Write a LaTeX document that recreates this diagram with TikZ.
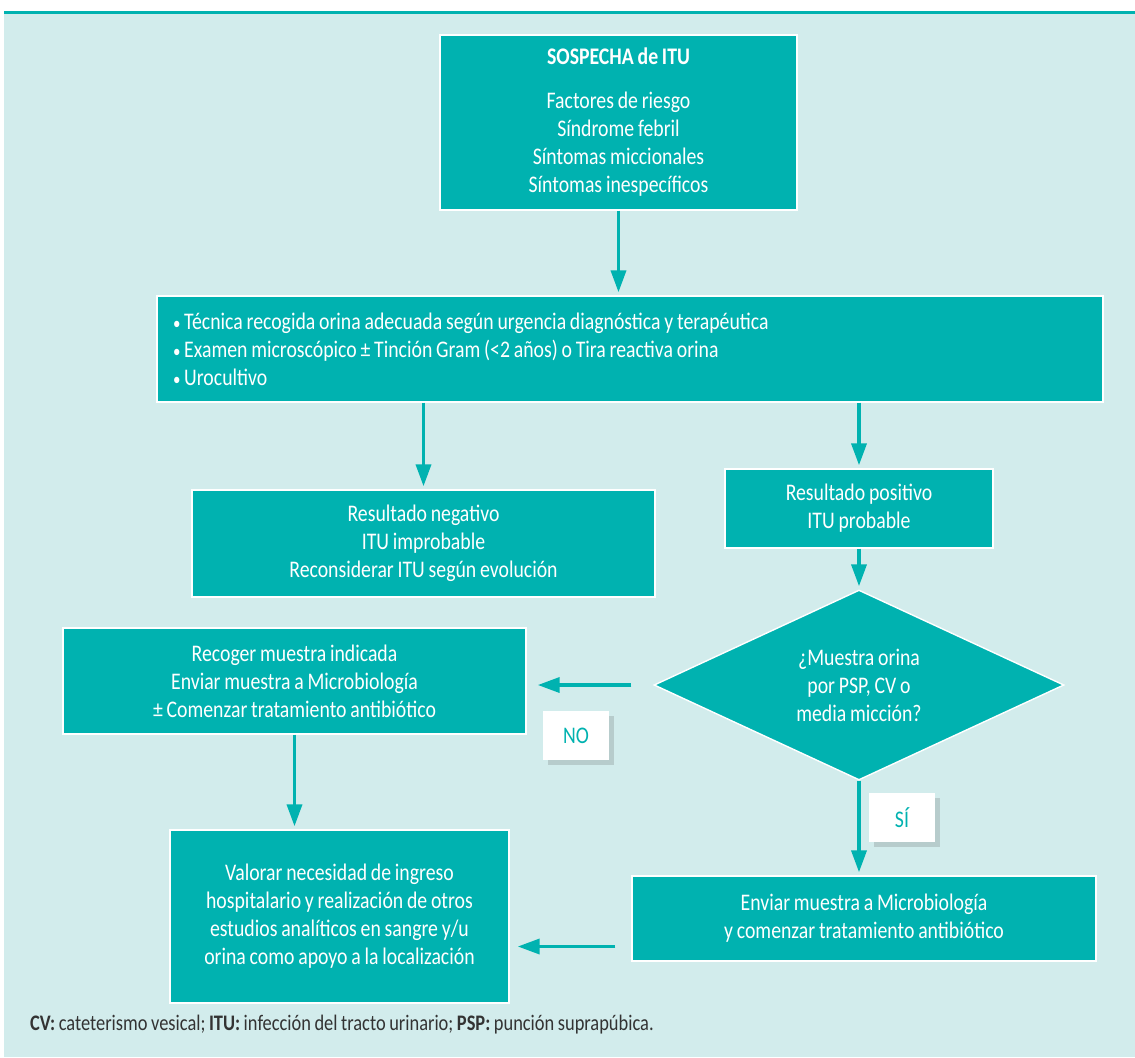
\documentclass[tikz,border=0pt]{standalone}
\usepackage{fontspec}
\setmainfont[FakeStretch=0.83,WordSpace=0.85]{Carlito}
\usetikzlibrary{arrows.meta,positioning,shapes.geometric,shadows}
\definecolor{tealbox}{HTML}{00B2B0}
\definecolor{tealbg}{HTML}{D2ECEC}
\definecolor{notegrey}{HTML}{333333}

\begin{document}
\begin{tikzpicture}[x=0.5pt,y=-0.5pt,font=\fontsize{11.9}{14}\selectfont,
  box/.style={draw=white,line width=0.7pt,fill=tealbox,text=white,
              align=center,inner sep=0pt},
  decision/.style={diamond,aspect=2.2,draw=white,line width=0.7pt,fill=tealbox,
              text=white,align=center,inner sep=0pt,
              minimum width=205pt,minimum height=95pt},
  tag/.style={fill=white,text=tealbox,minimum width=33pt,minimum height=24.5pt,
              inner sep=0pt,drop shadow={shadow xshift=2.5pt,shadow yshift=-2.5pt,
              opacity=.2,fill=black!70}},
  flow/.style={draw=tealbox,line width=1.8pt,
              -{Triangle[length=11pt,width=7.5pt]},shorten >=1.5pt}]
% page, rule on top
\fill[white] (0,0) rectangle (1135,1057);
\fill[tealbg] (4,14) rectangle (1135,1057);
\fill[tealbox] (4,11) rectangle (1135,14);
\useasboundingbox (0,0) rectangle (1135,1057);

\node[box,minimum width=178.5pt,minimum height=87.5pt] (sosp) at (618.5,122.5)
  {{\bfseries SOSPECHA de ITU}\\[8pt]Factores de riesgo\\Síndrome febril\\
   Síntomas miccionales\\Síntomas inespecíficos};
\node[box,align=left,text width=457pt,inner xsep=8pt,minimum height=53pt] (tecn)
  at (630,349)
  {\spaceskip=0pt \xspaceskip=0pt
   {\small\textbullet}\ Técnica recogida orina adecuada según urgencia diagnóstica y terapéutica\\
   {\small\textbullet}\ Examen microscópico ± Tinción Gram (<2 años) o Tira reactiva orina\\
   {\small\textbullet}\ Urocultivo};
\node[box,minimum width=231.5pt,minimum height=53.5pt] (neg) at (423.5,543.5)
  {Resultado negativo\\ITU improbable\\Reconsiderar ITU según evolución};
\node[box,minimum width=134pt,minimum height=39.5pt] (pos) at (859,508.5)
  {Resultado positivo\\ITU probable};
\node[decision] (muestra) at (859,685)
  {¿Muestra orina\\por PSP, CV o\\media micción?};
\node[box,minimum width=231.5pt,minimum height=53pt] (recog) at (294.5,681)
  {Recoger muestra indicada\\Enviar muestra a Microbiología\\
   ± Comenzar tratamiento antibiótico};
\node[box,minimum width=232pt,minimum height=42.5pt] (envia) at (864,918.5)
  {Enviar muestra a Microbiología\\y comenzar tratamiento antibiótico};
\node[box,minimum width=169.5pt,minimum height=86.5pt] (valor) at (339.5,916.5)
  {Valorar necesidad de ingreso\\hospitalario y realización de otros\\
   estudios analíticos en sangre y/u\\orina como apoyo a la localización};
\node[tag] (no) at (576,735.5) {NO};
\node[tag] (si) at (902,817.5) {SÍ};

\draw[flow] (sosp.south) -- (tecn.north -| sosp.south);
\draw[flow] (neg.north |- tecn.south) -- (neg.north);
\draw[flow] (pos.north |- tecn.south) -- (pos.north);
\draw[flow] (pos.south) -- (muestra.north);
\draw[flow,shorten <=11pt,shorten >=5.5pt] (muestra.west) -- (muestra.west -| recog.east);
\draw[flow] (muestra.south) -- (muestra.south |- envia.north);
\draw[flow,shorten <=8pt,shorten >=4pt] ([yshift=-14pt]envia.west)
  -- ([yshift=-14pt]envia.west -| valor.east);
\draw[flow] (recog.south) -- (recog.south |- valor.north);

\node[anchor=west,text=notegrey,font=\fontsize{11.1}{14}\selectfont] (nota) at (23,1025)
  {\textbf{CV:} cateterismo vesical; \textbf{ITU:} infección del tracto urinario;
   \textbf{PSP:} punción suprapúbica.};
\end{tikzpicture}
\end{document}
